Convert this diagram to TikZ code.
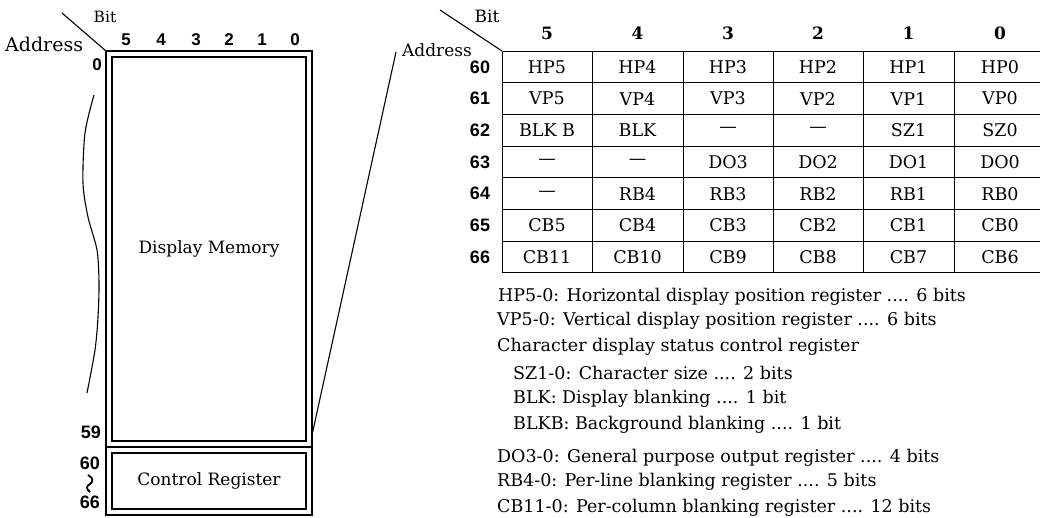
\documentclass[tikz,border=0pt]{standalone}
\usepackage{fontspec}
\setmainfont{DejaVu Serif}
\newfontfamily\spaced{DejaVu Serif}[LetterSpace=0]
\newfontfamily\numsans{Liberation Sans}
\begin{document}
\begin{tikzpicture}[x=1pt,y=-1pt,
  heavy/.style={line width=2.4pt},
  thinline/.style={line width=1.1pt},
  gridline/.style={line width=0.9pt},
  txt/.style={inner sep=0pt, font=\spaced\fontsize{17.5}{21}\selectfont},
  celltxt/.style={inner sep=0pt, font=\fontsize{17.5}{22}\selectfont},
  rownum/.style={inner sep=0pt, font=\numsans\bfseries\fontsize{18}{18}\selectfont},
  bitnum/.style={inner sep=0pt, font=\numsans\bfseries\fontsize{17}{18}\selectfont},
  colnum/.style={inner sep=0pt, font=\bfseries\fontsize{17}{20}\selectfont},
  memblock/.style={heavy, draw, inner sep=0pt, font=\spaced\fontsize{17}{21}\selectfont}]
\useasboundingbox (0,0) rectangle (1040,517);

% ---------------- left: memory map ----------------
\draw[heavy] (106,51) rectangle (312,515);
\draw[heavy] (106,447) -- (312,447);
\node[memblock, minimum width=194pt, minimum height=384pt] (mem) at (209,249) {Display Memory};
\node[memblock, minimum width=194pt, minimum height=56pt] (ctrl) at (209,481) {Control Register};

\node[inner sep=0pt, font=\fontsize{15.5}{18}\selectfont] (lbit) at (105,17) {Bit};
\node[inner sep=0pt, anchor=west, font=\spaced\fontsize{19}{22}\selectfont] (laddr) at (5,44) {Address};
\coordinate (lcorner) at (106,51);
\coordinate (ldiag) at (62,13);
\draw[thinline] (ldiag) -- (lcorner);

\foreach \b/\x in {5/126,4/161,3/196,2/229,1/262,0/295}
  \node[bitnum] (lb\b) at (\x,40) {\b};

\node[bitnum] (a0) at (97,65) {0};
\node[rownum] (a59) at (91,432) {59};
\node[rownum] (a60) at (90,463) {60};
\node[rownum] (a66) at (90,502) {66};
\draw[line width=1.8pt] (88,475) .. controls (94,478) and (93,482) .. (90,484)
  .. controls (86,486) and (86,489) .. (90,492);

\draw[thinline] plot[smooth] coordinates {(94,95) (85,133) (83,183) (88,217) (97,250) (99,283) (98,317) (95,350) (87,393)};

% connector from memory to table
\coordinate (memref) at (312,435);
\coordinate (tabref) at (396,52);
\draw[thinline] (memref) -- (tabref);

% ---------------- right: register table ----------------
\node[inner sep=0pt, font=\fontsize{17}{20}\selectfont] (rbit) at (487,16) {Bit};
\node[inner sep=0pt, font=\fontsize{17}{22}\selectfont] (raddr) at (437,50) {Address};
\coordinate (rcorner) at (502,51);
\coordinate (rdiag) at (440,10);
\draw[thinline] (rdiag) -- (rcorner);

\foreach \k in {0,...,7}
  \draw[gridline] (502,51+31.7*\k) -- (1040,51+31.7*\k);
\foreach \x in {502,592,683,773,863,954}
  \draw[gridline] (\x,51) -- (\x,272.9);

\foreach \b/\x in {5/547,4/637.5,3/728,2/818,1/908.5,0/1000}
  \node[colnum] (h\b) at (\x,33) {\b};

\foreach \r/\a/\bb/\c/\d/\e/\f [count=\i from 0] in {
  60/HP5/HP4/HP3/HP2/HP1/HP0,
  61/VP5/VP4/VP3/VP2/VP1/VP0,
  62/BLK B/BLK/—/—/SZ1/SZ0,
  63/—/—/DO3/DO2/DO1/DO0,
  64/—/RB4/RB3/RB2/RB1/RB0,
  65/CB5/CB4/CB3/CB2/CB1/CB0,
  66/CB11/CB10/CB9/CB8/CB7/CB6}{
  \pgfmathsetmacro{\yy}{51+31.7*(\i+0.5)}
  \node[rownum] (r\r) at (480,\yy) {\r};
  \node[celltxt] (c\r-5) at (547,\yy) {\a};
  \node[celltxt] (c\r-4) at (637.5,\yy) {\bb};
  \node[celltxt] (c\r-3) at (728,\yy) {\c};
  \node[celltxt] (c\r-2) at (818,\yy) {\d};
  \node[celltxt] (c\r-1) at (908.5,\yy) {\e};
  \node[celltxt] (c\r-0) at (1000,\yy) {\f};
}

% ---------------- legend ----------------
\node[txt, anchor=west] (d1) at (498,297) {HP5-0: Horizontal display position register .... 6 bits};
\node[txt, anchor=west] (d2) at (497,321) {VP5-0: Vertical display position register .... 6 bits};
\node[txt, anchor=west] (d3) at (497,347) {Character display status control register};
\node[txt, anchor=west] (d4) at (513,373) {SZ1-0: Character size .... 2 bits};
\node[txt, anchor=west] (d5) at (513,399) {BLK: Display blanking .... 1 bit};
\node[txt, anchor=west] (d6) at (513,425) {BLKB: Background blanking .... 1 bit};
\node[txt, anchor=west] (d7) at (497,458) {DO3-0: General purpose output register .... 4 bits};
\node[txt, anchor=west] (d8) at (497,482) {RB4-0: Per-line blanking register .... 5 bits};
\node[txt, anchor=west] (d9) at (497,508) {CB11-0: Per-column blanking register .... 12 bits};
\end{tikzpicture}
\end{document}
